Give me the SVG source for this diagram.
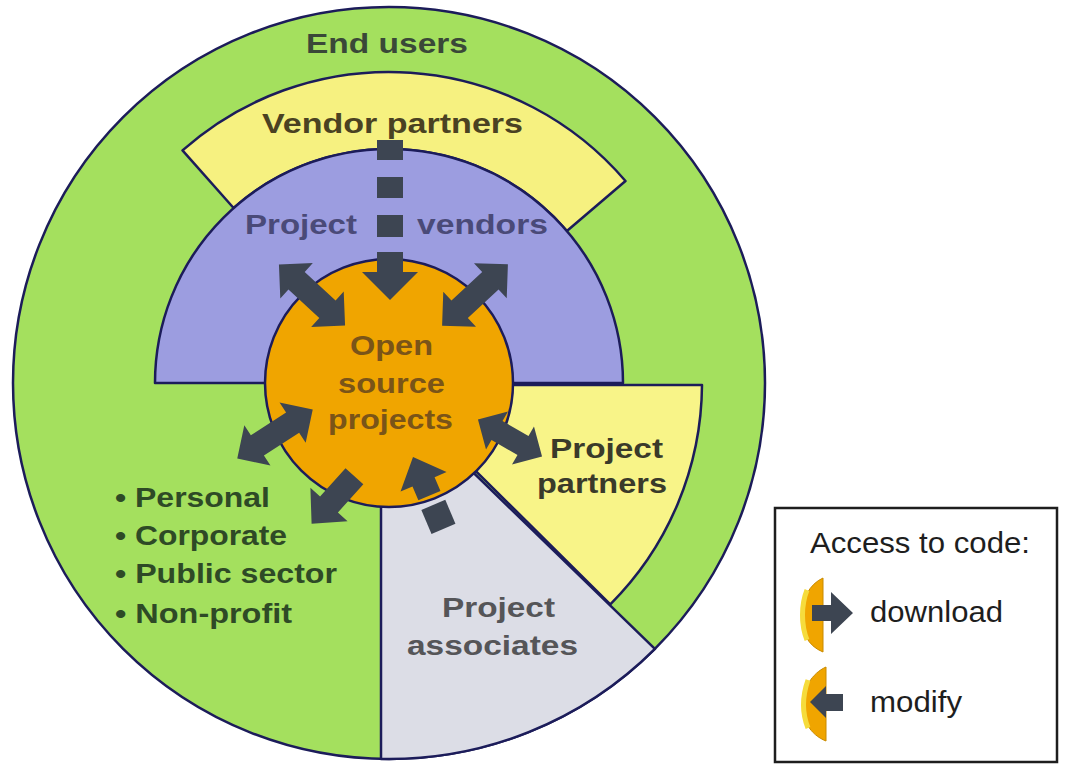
<svg xmlns="http://www.w3.org/2000/svg" width="1066" height="765" viewBox="0 0 1066 765">
<defs>
<style>
.ol{stroke:#1c1c5a;stroke-width:2.5;stroke-linejoin:round}
.arr{fill:#3d4552}
.lbl{font-family:"Liberation Sans",Arial,sans-serif;font-weight:bold;font-size:28px}
.leg{font-family:"Liberation Sans",Arial,sans-serif;font-size:30px;fill:#1e1e1e}
</style>
<path id="dbl" d="M-45,0 L-21,-24 L-21,-12 L21,-12 L21,-24 L45,0 L21,24 L21,12 L-21,12 L-21,24 Z"/>
<path id="dbls" d="M-37,0 L-15,-22 L-15,-11 L15,-11 L15,-22 L37,0 L15,22 L15,11 L-15,11 L-15,22 Z"/>
<path id="dl" d="M-32,-12 L6,-12 L6,-25 L32,0 L6,25 L6,12 L-32,12 Z"/>
</defs>
<rect width="1066" height="765" fill="#ffffff"/>

<g id="end-users">
<circle class="ol" cx="389" cy="383" r="376" fill="#a4e05e"/>
<text class="lbl" x="306" y="53" textLength="162" lengthAdjust="spacingAndGlyphs" fill="#3a4838">End users</text>
<g fill="#2e4a26" class="lbl" style="font-size:27px">
<text x="115" y="507" textLength="155" lengthAdjust="spacingAndGlyphs">• Personal</text>
<text x="115" y="545" textLength="172" lengthAdjust="spacingAndGlyphs">• Corporate</text>
<text x="115" y="583" textLength="222" lengthAdjust="spacingAndGlyphs">• Public sector</text>
<text x="115" y="623" textLength="177" lengthAdjust="spacingAndGlyphs">• Non-profit</text>
</g>
</g>

<g id="vendor-partners">
<path class="ol" fill="#f6f180" d="M182.5,150.4 A311,311 0 0 1 625.5,181 L566.9,231 A234,234 0 0 0 233.6,208 Z"/>
<text class="lbl" x="262" y="133" textLength="261" lengthAdjust="spacingAndGlyphs" fill="#4a4222">Vendor partners</text>
</g>

<g id="project-vendors">
<path class="ol" fill="#9c9de0" d="M155,383 A234,234 0 0 1 623,383 Z"/>
<text class="lbl" y="234" fill="#4a4a78" style="font-size:27px"><tspan x="245" textLength="112" lengthAdjust="spacingAndGlyphs">Project</tspan> <tspan x="417" textLength="131" lengthAdjust="spacingAndGlyphs">vendors</tspan></text>
</g>

<g id="project-partners">
<path class="ol" fill="#f8f488" d="M389,385 L702,385 A313,313 0 0 1 610.3,604.3 Z"/>
<text class="lbl" fill="#3a3a2a" style="font-size:27px"><tspan x="550" y="458" textLength="113" lengthAdjust="spacingAndGlyphs">Project</tspan><tspan x="537" y="493" textLength="130" lengthAdjust="spacingAndGlyphs">partners</tspan></text>
</g>

<g id="project-associates">
<path class="ol" fill="#dcdde6" d="M381,383 L381,758.9 A376,376 0 0 0 654.9,648.9 Z"/>
<text class="lbl" fill="#555558" style="font-size:27px"><tspan x="442" y="617" textLength="113" lengthAdjust="spacingAndGlyphs">Project</tspan><tspan x="407" y="655" textLength="171" lengthAdjust="spacingAndGlyphs">associates</tspan></text>
</g>

<g id="open-source-projects">
<circle class="ol" cx="389" cy="383" r="124" fill="#f0a500"/>
<text class="lbl" fill="#7a5418"><tspan x="350" y="355" textLength="83" lengthAdjust="spacingAndGlyphs">Open</tspan><tspan x="338" y="393" textLength="107" lengthAdjust="spacingAndGlyphs">source</tspan><tspan x="328" y="429" textLength="125" lengthAdjust="spacingAndGlyphs">projects</tspan></text>
</g>

<g id="connectors" class="arr">
<rect x="377" y="140" width="26" height="20"/>
<rect x="377" y="177" width="26" height="21"/>
<rect x="377" y="215" width="26" height="22"/>
<path d="M377,252 L403,252 L403,272 L418,272 L390,300 L362,272 L377,272 Z"/>
<use href="#dbl" transform="translate(312,295) rotate(42.7)"/>
<use href="#dbl" transform="translate(475,295) rotate(-43)"/>
<use href="#dbl" transform="translate(275,434) rotate(-33)"/>
<use href="#dbls" transform="translate(510,438) rotate(30)"/>
<use href="#dl" transform="translate(333,500) rotate(132)"/>
<g transform="translate(413,457) rotate(247)">
<path d="M0,0 L-27,-25 L-27,-12 L-42,-12 L-42,12 L-27,12 L-27,25 Z"/>
<rect x="-78" y="-13" width="26" height="26"/>
</g>
</g>

<g id="legend">
<rect x="775" y="508" width="282" height="254" fill="#ffffff" stroke="#1e1e1e" stroke-width="2.5"/>
<text class="leg" x="810" y="553" textLength="220" lengthAdjust="spacingAndGlyphs">Access to code:</text>
<path d="M823,578 C796,590 792,640 823,652 Z" fill="#f0a500" stroke="#c98a00" stroke-width="1"/>
<path d="M807,590 C801,605 801,625 807,640" fill="none" stroke="#f6dc3c" stroke-width="5"/>
<path class="arr" d="M812,605 L831,605 L831,592 L853,613 L831,634 L831,621 L812,621 Z"/>
<text class="leg" x="870" y="622" textLength="133" lengthAdjust="spacingAndGlyphs">download</text>
<path d="M826,667 C797,680 793,728 826,741 Z" fill="#f0a500" stroke="#c98a00" stroke-width="1"/>
<path d="M808,680 C802,697 802,713 808,728" fill="none" stroke="#f6dc3c" stroke-width="5"/>
<path class="arr" d="M810,702 L826,686 L826,694 L843,694 L843,711 L826,711 L826,718 Z"/>
<text class="leg" x="870" y="712" textLength="92" lengthAdjust="spacingAndGlyphs">modify</text>
</g>
</svg>
